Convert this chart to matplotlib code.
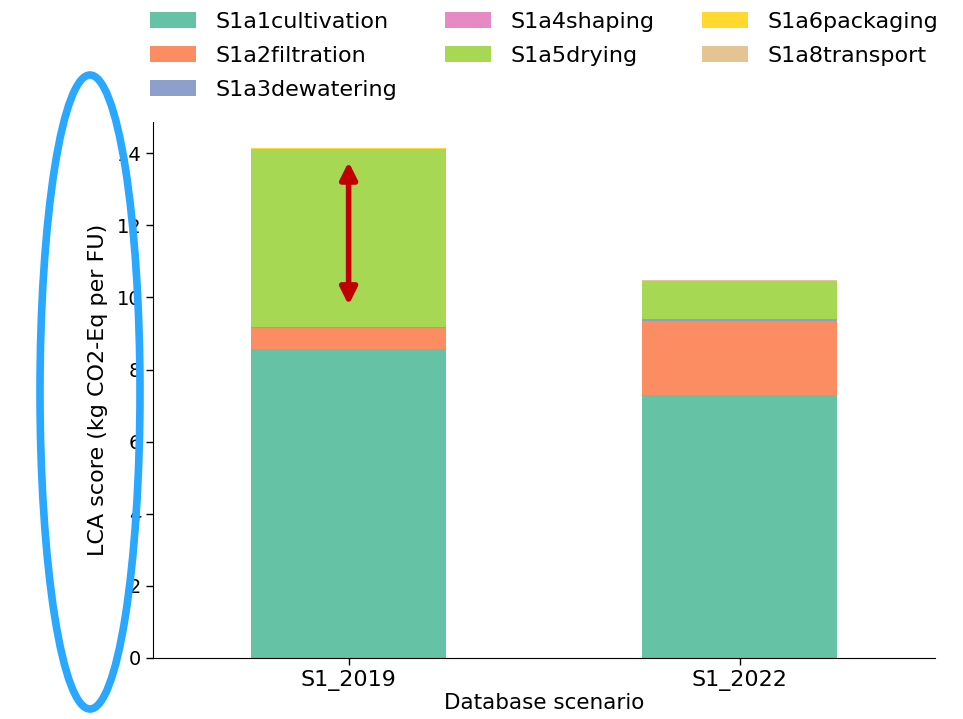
import matplotlib
matplotlib.use("Agg")
import matplotlib.pyplot as plt
import numpy as np
from matplotlib.patches import Ellipse

# ------------------------------
# Data
# ------------------------------
scenarios = ["S1_2019", "S1_2022"]
stages = ["S1a1cultivation", "S1a2filtration", "S1a3dewatering", "S1a4shaping",
          "S1a5drying", "S1a6packaging", "S1a8transport"]
cultivation = [8.58, 7.30]
filtration = [0.58, 2.05]
dewatering = [0.03, 0.05]
shaping = [0.00, 0.01]
drying = [4.93, 1.04]
packaging = [0.02, 0.01]
transport = [0.01, 0.01]
stage_values = [cultivation, filtration, dewatering, shaping, drying, packaging, transport]
colors = ["#66c2a5", "#fc8d62", "#8da0cb", "#e78ac3", "#a6d854", "#ffd92f", "#e5c494"]

# arrow marking the drying contribution on the first bar
arrow_top = 13.76
arrow_bottom = 9.79

# ------------------------------
# Plot
# ------------------------------
plt.rcParams['font.family'] = ['DejaVu Sans']
fig = plt.figure(figsize=(9.63, 7.19), dpi=100)
ax = fig.add_axes([0.159, 0.085, 0.812, 0.745])

x = np.arange(len(scenarios))
bottom = np.zeros(len(scenarios))
for name, vals, c in zip(stages, stage_values, colors):
    ax.bar(x, vals, width=0.5, bottom=bottom, color=c, label=name)
    bottom += np.array(vals)

ax.set_xlim(-0.5, 1.5)
ax.set_ylim(0, 14.86)
ax.set_yticks([0, 2, 4, 6, 8, 10, 12, 14])
ax.set_xticks(x)
ax.set_xticklabels(scenarios)
ax.tick_params(length=5, width=1)
ax.tick_params(axis="x", labelsize=16)
ax.tick_params(axis="y", labelsize=14)
ax.set_xlabel("Database scenario", fontsize=15.5, labelpad=2)
ax.set_ylabel("LCA score (kg CO2-Eq per FU)", fontsize=16, labelpad=6)
ax.spines['top'].set_visible(False)
ax.spines['right'].set_visible(False)

ax.annotate("", xy=(0, arrow_top), xytext=(0, arrow_bottom),
            arrowprops=dict(arrowstyle="<|-|>", color="#c00000", lw=4,
                            mutation_scale=25, shrinkA=0, shrinkB=0))

fig.legend(*ax.get_legend_handles_labels(), ncol=3, loc="upper left",
           bbox_to_anchor=(150 / 963, 1 - 12 / 719), frameon=False,
           fontsize=16, handlelength=2.05, handleheight=0.75, handletextpad=0.9,
           columnspacing=2.15, labelspacing=0.62, borderpad=0, borderaxespad=0)

# blue highlight ellipse around the y axis labels
ell = Ellipse((90 / 963, 1 - 392 / 719), 100 / 963, 634 / 719,
              transform=fig.transFigure, fill=False, edgecolor="#2aa8ff", lw=5.5)
fig.patches.append(ell)

fig.savefig("out.png", dpi=100)
